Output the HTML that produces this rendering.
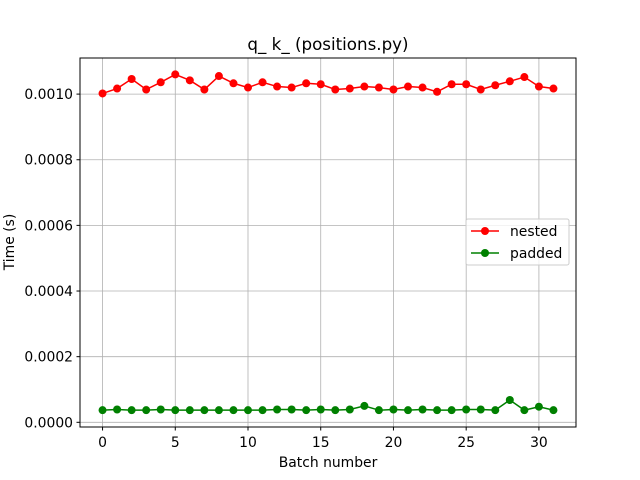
<!DOCTYPE html>
<html><head><meta charset="utf-8"><style>body{margin:0;background:#fff}svg{display:block;font-family:"DejaVu Sans","Liberation Sans",sans-serif}</style></head>
<body>
<svg id="chart" width="640" height="480" viewBox="0 0 640 480">
<rect width="640" height="480" fill="#fff"/>
<g id="grid"></g>
<g id="series"></g>
<rect x="80" y="58" width="496" height="369" fill="none" stroke="#000" stroke-width="1"/>
<g id="ticks" font-size="13.9" fill="#000"></g>
<text x="328" y="50" text-anchor="middle" font-size="16.7">q_ k_ (positions.py)</text>
<text x="328" y="467" text-anchor="middle" font-size="13.9">Batch number</text>
<text transform="translate(14,242) rotate(-90)" text-anchor="middle" font-size="13.9">Time (s)</text>
<g>
<rect x="466" y="219" width="103" height="46" rx="2" fill="#fff" fill-opacity="0.8" stroke="#ccc"/>
<g><line x1="471" y1="231" x2="499" y2="231" stroke="red" stroke-width="1.5"/><circle cx="485" cy="231" r="4" fill="red"/><text x="510" y="236" font-size="13.9">nested</text></g>
<g><line x1="471" y1="253" x2="499" y2="253" stroke="green" stroke-width="1.5"/><circle cx="485" cy="253" r="4" fill="green"/><text x="510" y="258" font-size="13.9">padded</text></g>
</g>
</svg>
<script>
const batches = Array.from({length:32},(_,i)=>i);
const nested = [1.002,1.017,1.046,1.014,1.036,1.060,1.042,1.014,1.055,1.033,1.020,1.036,1.023,1.020,1.033,1.030,1.014,1.017,1.023,1.020,1.014,1.023,1.020,1.007,1.030,1.030,1.014,1.027,1.039,1.052,1.023,1.017].map(v=>v*1e-3);
const padded = [3.7,3.9,3.7,3.7,3.9,3.7,3.7,3.7,3.7,3.7,3.7,3.7,3.9,3.9,3.7,3.9,3.7,3.9,5.0,3.7,3.9,3.7,3.9,3.7,3.7,3.9,3.9,3.7,6.8,3.7,4.75,3.7].map(v=>v*1e-5);
const xTicks = [0,5,10,15,20,25,30];
const yTicks = [0,0.0002,0.0004,0.0006,0.0008,0.0010];
const yTickLabels = ["0.0000","0.0002","0.0004","0.0006","0.0008","0.0010"];
const L=80,R=576,T=58,B=427, x0=-1.55,x1=32.55, y0=-0.0000143,y1=0.00111;
const X=v=>L+(v-x0)/(x1-x0)*(R-L);
const Y=v=>B-(v-y0)/(y1-y0)*(B-T);
const NS="http://www.w3.org/2000/svg";
function mk(t,a,p){const e=document.createElementNS(NS,t);for(const k in a)e.setAttribute(k,a[k]);p.appendChild(e);return e;}
const grid=document.getElementById('grid'),ticks=document.getElementById('ticks'),ser=document.getElementById('series');
xTicks.forEach(t=>{const x=X(t);
 const g=mk('line',{x1:x,x2:x,y1:T,y2:B,stroke:'#b0b0b0','stroke-width':0.8},grid);
 
 
 mk('line',{x1:x,x2:x,y1:B,y2:B+3.5,stroke:'#000'},ticks);
 const tx=mk('text',{x:x,y:B+20,'text-anchor':'middle'},ticks);tx.textContent=t;
 
 
});
yTicks.forEach((t,i)=>{const y=Y(t);
 const g=mk('line',{x1:L,x2:R,y1:y,y2:y,stroke:'#b0b0b0','stroke-width':0.8},grid);
 
 
 mk('line',{x1:L-3.5,x2:L,y1:y,y2:y,stroke:'#000'},ticks);
 const tx=mk('text',{x:L-7,y:y+5,'text-anchor':'end'},ticks);tx.textContent=yTickLabels[i];
 
 
});
function draw(vals,color,name){
 const pl=mk('polyline',{points:vals.map((v,i)=>X(batches[i])+','+Y(v)).join(' '),fill:'none',stroke:color,'stroke-width':1.5},ser);
 
 
 vals.forEach((v,i)=>{const c=mk('circle',{cx:X(batches[i]),cy:Y(v),r:4,fill:color},ser);
  
  
 });
}
draw(nested,'red','nested');
draw(padded,'green','padded');
</script>
</body></html>
